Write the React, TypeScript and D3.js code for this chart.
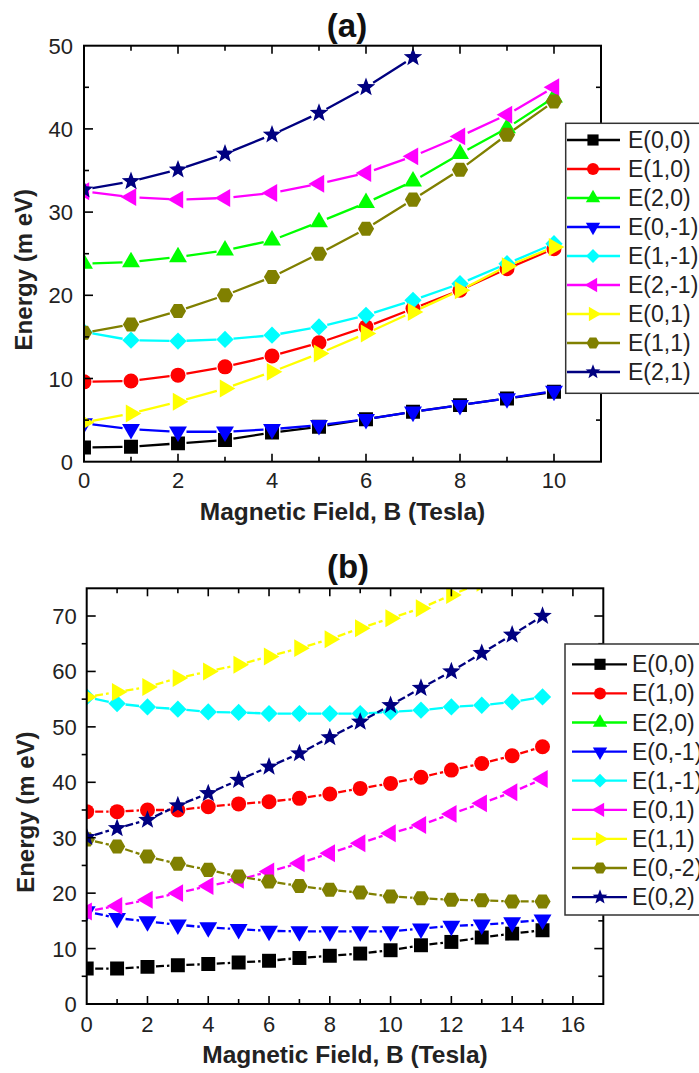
import React from "react";
import * as d3 from "d3";

// ---------- DATA ----------
const xA = [0, 1, 2, 3, 4, 5, 6, 7, 8, 9, 10];
const namesA = ["E(0,0)", "E(1,0)", "E(2,0)", "E(0,-1)", "E(1,-1)", "E(2,-1)", "E(0,1)", "E(1,1)", "E(2,1)"];
const E00a = [1.7, 1.8, 2.2, 2.6, 3.5, 4.2, 5.1, 6.0, 6.8, 7.6, 8.4];
const E10a = [9.6, 9.7, 10.4, 11.4, 12.7, 14.3, 16.2, 18.4, 20.6, 23.2, 25.6];
const E20a = [23.8, 24.0, 24.6, 25.4, 26.6, 28.8, 31.1, 33.7, 37.0, 40.1, 43.8];
const E0m1a = [4.6, 3.9, 3.6, 3.6, 3.9, 4.4, 5.1, 6.0, 6.8, 7.6, 8.5];
const E1m1a = [15.6, 14.6, 14.5, 14.7, 15.2, 16.2, 17.6, 19.4, 21.4, 23.8, 26.2];
const E2m1a = [32.5, 31.8, 31.5, 31.7, 32.3, 33.4, 34.7, 36.7, 39.1, 41.7, 45.0];
const E01a = [4.7, 5.8, 7.2, 8.8, 10.8, 13.0, 15.4, 18.0, 20.6, 23.5, 25.8];
const E11a = [15.5, 16.5, 18.1, 20.0, 22.2, 25.0, 28.0, 31.5, 35.1, 39.3, 43.3];
const E21a = [32.7, 33.7, 35.1, 37.0, 39.3, 41.9, 45.0, 48.6];

const xB = [0, 1, 2, 3, 4, 5, 6, 7, 8, 9, 10, 11, 12, 13, 14, 15];
const namesB = ["E(0,0)", "E(1,0)", "E(2,0)", "E(0,-1)", "E(1,-1)", "E(0,1)", "E(1,1)", "E(0,-2)", "E(0,2)"];
const E00b = [6.4, 6.4, 6.7, 7.0, 7.2, 7.5, 7.8, 8.3, 8.7, 9.1, 9.7, 10.6, 11.2, 12.0, 12.7, 13.3];
const E10b = [34.7, 34.7, 35.0, 35.0, 35.6, 36.1, 36.5, 37.1, 37.9, 38.9, 39.8, 40.9, 42.2, 43.4, 44.8, 46.4];
const E20b: number[] = [];
const E0m1b = [16.7, 15.5, 14.9, 14.3, 13.8, 13.5, 13.2, 13.1, 13.1, 13.1, 13.1, 13.6, 14.1, 14.3, 14.7, 15.2];
const E1m1b = [55.4, 54.2, 53.6, 53.2, 52.7, 52.6, 52.4, 52.4, 52.4, 52.4, 52.7, 53.0, 53.6, 53.9, 54.5, 55.4];
const E01b = [16.7, 17.7, 18.8, 20.0, 21.3, 22.4, 23.9, 25.4, 27.2, 29.0, 30.8, 32.3, 34.3, 36.2, 38.2, 40.6];
const E11b = [55.4, 56.3, 57.2, 58.8, 60.0, 61.2, 62.7, 64.2, 65.8, 67.8, 69.6, 71.4, 73.8, 76.0];
const E0m2b = [29.7, 28.4, 26.6, 25.3, 24.2, 23.0, 22.1, 21.3, 20.6, 20.1, 19.4, 19.1, 18.8, 18.7, 18.5, 18.5];
const E02b = [30.1, 31.7, 33.2, 35.8, 38.0, 40.4, 42.8, 45.2, 48.1, 50.9, 53.9, 57.0, 60.0, 63.3, 66.6, 70.0];

const colors = ["#000000", "#ff0000", "#00ff00", "#0000ff", "#00ffff", "#ff00ff", "#ffff00", "#808000", "#000080"];
const shapes = ["square", "circle", "up", "down", "diamond", "left", "right", "hexagon", "star"];
const dashesA = ["", "", "", "", "", "", "", "", ""];
const dashesB = ["8,3", "8,3", "8,3", "8,3", "", "8,3", "8,3", "8,3", "8,3"];

const seriesA = [E00a, E10a, E20a, E0m1a, E1m1a, E2m1a, E01a, E11a, E21a];
const seriesB = [E00b, E10b, E20b, E0m1b, E1m1b, E01b, E11b, E0m2b, E02b];

// ---------- HELPERS ----------
const FONT = "Arial, 'Liberation Sans', Helvetica, sans-serif";

function polyPath(angles: number[], R: number) {
  return (
    angles
      .map((a, i) => {
        const t = (a * Math.PI) / 180;
        return `${i === 0 ? "M" : "L"}${(R * Math.cos(t)).toFixed(2)},${(R * Math.sin(t)).toFixed(2)}`;
      })
      .join("") + "Z"
  );
}

function markerPath(shape: string, r: number): string {
  switch (shape) {
    case "square": {
      const h = r * 0.93;
      return `M${-h},${-h}H${h}V${h}H${-h}Z`;
    }
    case "circle":
      return `M${r},0A${r},${r} 0 1,1 ${-r},0A${r},${r} 0 1,1 ${r},0Z`;
    case "up":
      return polyPath([-90, 30, 150], r * 1.38);
    case "down":
      return polyPath([90, 210, 330], r * 1.38);
    case "left":
      return polyPath([180, 300, 60], r * 1.38);
    case "right":
      return polyPath([0, 120, 240], r * 1.38);
    case "diamond":
      return polyPath([-90, 0, 90, 180], r * 1.15);
    case "hexagon":
      return polyPath([0, 60, 120, 180, 240, 300], r * 1.08);
    case "star": {
      const pts: number[][] = [];
      const R = r * 1.3;
      const ri = R * 0.42;
      for (let i = 0; i < 10; i++) {
        const a = -Math.PI / 2 + (i * Math.PI) / 5;
        const rr = i % 2 === 0 ? R : ri;
        pts.push([rr * Math.cos(a), rr * Math.sin(a)]);
      }
      return pts.map((p, i) => `${i === 0 ? "M" : "L"}${p[0].toFixed(2)},${p[1].toFixed(2)}`).join("") + "Z";
    }
  }
  return "";
}

type PanelProps = {
  id: string;
  left: number;
  top: number;
  right: number;
  bottom: number;
  xMax: number;
  yMax: number;
  xLabelStep: number;
  xs: number[];
  series: number[][];
  names: string[];
  dashes: string[];
  title: string;
  titleX: number;
  titleY: number;
  legend: { x: number; y: number; h: number; row0: number; rowStep: number; lineX0: number; lineX1: number; markX: number; textX: number };
  xTitleY: number;
  yTitleX: number;
  xTickLabelDy: number;
  yTickLabelGap: number;
  leftMinorOut: boolean;
};

function Panel(p: PanelProps) {
  const x = d3.scaleLinear().domain([0, p.xMax]).range([p.left, p.right]);
  const y = d3.scaleLinear().domain([0, p.yMax]).range([p.bottom, p.top]);
  const gap = 8.5;
  const mr = 7.5;

  const xMinor = d3.range(1, p.xMax, 1);
  const yMinor = d3.range(5, p.yMax, 5);
  const xLabels = d3.range(0, p.xMax + 0.001, p.xLabelStep);
  const yLabels = d3.range(0, p.yMax + 0.001, 10);

  const segs = (vals: number[]) => {
    const out: string[] = [];
    for (let i = 0; i < vals.length - 1; i++) {
      const x0 = x(p.xs[i]), y0 = y(vals[i]);
      const x1 = x(p.xs[i + 1]), y1 = y(vals[i + 1]);
      const dx = x1 - x0, dy = y1 - y0;
      const d = Math.hypot(dx, dy);
      if (d <= 2 * gap) continue;
      const ux = dx / d, uy = dy / d;
      out.push(`M${x0 + ux * gap},${y0 + uy * gap}L${x1 - ux * gap},${y1 - uy * gap}`);
    }
    return out.join("");
  };

  const lg = p.legend;
  return (
    <g>
      <defs>
        <clipPath id={`clip-${p.id}`}>
          <rect x={p.left} y={p.top} width={p.right - p.left} height={p.bottom - p.top} />
        </clipPath>
      </defs>
      <text x={p.titleX} y={p.titleY} fontFamily={FONT} fontWeight="bold" fontSize={33} textAnchor="middle" fill="#111">
        {p.title}
      </text>
      <g clipPath={`url(#clip-${p.id})`}>
        {p.series.map((vals, si) => (
          <g key={si}>
            <path d={segs(vals)} stroke={colors[si]} strokeWidth={2.3} fill="none" strokeDasharray={p.dashes[si] || undefined} />
            {vals.map((v, i) => (
              <path
                key={i}
                d={markerPath(shapes[si], mr)}
                transform={`translate(${x(p.xs[i])},${y(v)})`}
                fill={colors[si]}
              />
            ))}
          </g>
        ))}
      </g>
      {/* frame */}
      <rect x={p.left} y={p.top} width={p.right - p.left} height={p.bottom - p.top} fill="none" stroke="#000" strokeWidth={2} />
      {/* x ticks */}
      {xMinor.map((v) => {
        const len = v % p.xLabelStep === 0 ? 8 : 5;
        return (
          <g key={`xt${v}`}>
            <line x1={x(v)} x2={x(v)} y1={p.bottom} y2={p.bottom - len} stroke="#000" strokeWidth={1.6} />
            <line x1={x(v)} x2={x(v)} y1={p.top} y2={p.top + len} stroke="#000" strokeWidth={1.6} />
          </g>
        );
      })}
      {yMinor.map((v) => {
        const major = v % 10 === 0;
        const len = major ? 9 : 5;
        const lx2 = !major && p.leftMinorOut ? p.left - len : p.left + len;
        return (
          <g key={`yt${v}`}>
            <line x1={p.left} x2={lx2} y1={y(v)} y2={y(v)} stroke="#000" strokeWidth={1.6} />
            <line x1={p.right} x2={p.right - len} y1={y(v)} y2={y(v)} stroke="#000" strokeWidth={1.6} />
          </g>
        );
      })}
      {xLabels.map((v) => (
        <text key={`xl${v}`} x={x(v)} y={p.bottom + p.xTickLabelDy} fontFamily={FONT} fontSize={22} textAnchor="middle" fill="#222">
          {v}
        </text>
      ))}
      {yLabels.map((v) => (
        <text key={`yl${v}`} x={p.left - p.yTickLabelGap} y={y(v) + 8} fontFamily={FONT} fontSize={22} textAnchor="end" fill="#222">
          {v}
        </text>
      ))}
      <text x={(p.left + p.right) / 2} y={p.xTitleY} fontFamily={FONT} fontWeight="bold" fontSize={24.5} textAnchor="middle" fill="#222">
        Magnetic Field, B (Tesla)
      </text>
      <text
        transform={`translate(${p.yTitleX},${(p.top + p.bottom) / 2 + 16}) rotate(-90)`}
        fontFamily={FONT}
        fontWeight="bold"
        fontSize={24}
        textAnchor="middle"
        fill="#222"
      >
        Energy (m eV)
      </text>
      {/* legend */}
      <rect x={lg.x} y={lg.y} width={200} height={lg.h} fill="#fff" stroke="#333" strokeWidth={1.5} />
      {p.names.map((n, i) => {
        const cy = lg.row0 + i * lg.rowStep;
        return (
          <g key={`lg${i}`}>
            <line x1={lg.lineX0} x2={lg.lineX1} y1={cy} y2={cy} stroke={colors[i]} strokeWidth={2.3} />
            <path d={markerPath(shapes[i], 6)} transform={`translate(${lg.markX},${cy})`} fill={colors[i]} />
            <text x={lg.textX} y={cy + 8} fontFamily={FONT} fontSize={23} fill="#222">
              {n}
            </text>
          </g>
        );
      })}
    </g>
  );
}

export default function App() {
  return (
    <svg width={699} height={1073} style={{ position: "absolute", left: 0, top: 0, background: "#fff" }}>
      <rect x={0} y={0} width={699} height={1073} fill="#fff" />
      <Panel
        id="a"
        left={84}
        top={45.7}
        right={601}
        bottom={461.7}
        xMax={11}
        yMax={50}
        xLabelStep={2}
        xs={xA}
        series={seriesA}
        names={namesA}
        dashes={dashesA}
        title="(a)"
        titleX={347}
        titleY={37}
        legend={{ x: 565.7, y: 123.3, h: 270, row0: 140, rowStep: 29, lineX0: 567, lineX1: 620, markX: 593, textX: 628 }}
        xTitleY={520}
        yTitleX={32}
        xTickLabelDy={26}
        yTickLabelGap={11}
        leftMinorOut={false}
      />
      <Panel
        id="b"
        left={86.7}
        top={588.3}
        right={603.3}
        bottom={1004}
        xMax={17}
        yMax={75}
        xLabelStep={2}
        xs={xB}
        series={seriesB}
        names={namesB}
        dashes={dashesB}
        title="(b)"
        titleX={348}
        titleY={578}
        legend={{ x: 565, y: 644, h: 271, row0: 664.3, rowStep: 29.1, lineX0: 572, lineX1: 627, markX: 600, textX: 632 }}
        xTitleY={1063}
        yTitleX={34}
        xTickLabelDy={28}
        yTickLabelGap={10}
        leftMinorOut={true}
      />
    </svg>
  );
}
